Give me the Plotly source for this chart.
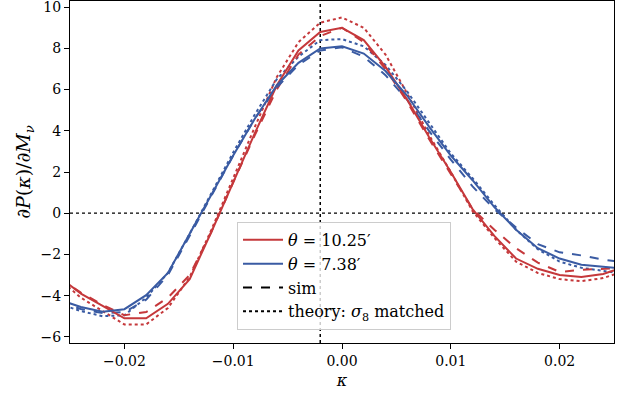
import plotly.graph_objects as go

kappa = [-0.026, -0.024, -0.022, -0.020, -0.018, -0.016, -0.014, -0.012, -0.010, -0.008,
         -0.006, -0.004, -0.002, 0.000, 0.002, 0.004, 0.006, 0.008, 0.010, 0.012,
         0.014, 0.016, 0.018, 0.020, 0.022, 0.024, 0.026]

red_solid = [-3.1, -3.9, -4.5, -5.1, -5.1, -4.4, -3.2, -0.9, 1.5, 3.9,
             6.2, 7.9, 8.8, 9.0, 8.4, 7.1, 5.5, 3.7, 2.0, 0.2,
             -1.1, -2.2, -2.7, -3.0, -3.1, -2.95, -2.6]
red_sim = [-3.15, -3.85, -4.45, -4.95, -4.8, -4.1, -3.0, -0.9, 1.5, 3.8,
           6.0, 7.7, 8.6, 9.0, 8.3, 7.0, 5.4, 3.6, 1.9, 0.2,
           -0.8, -1.7, -2.4, -2.85, -2.75, -2.7, -2.65]
red_theory = [-3.2, -4.1, -4.75, -5.4, -5.4, -4.6, -3.1, -0.8, 1.7, 4.2,
              6.6, 8.3, 9.25, 9.5, 9.0, 7.7, 5.8, 3.8, 2.0, 0.1,
              -1.2, -2.35, -2.9, -3.2, -3.3, -3.15, -2.8]

blue_solid = [-4.2, -4.55, -4.78, -4.66, -3.98, -2.9, -1.0, 0.9, 2.8, 4.6,
              6.2, 7.3, 8.0, 8.1, 7.75, 6.9, 5.7, 4.2, 2.8, 1.6,
              0.3, -0.8, -1.7, -2.2, -2.5, -2.6, -2.7]
blue_sim = [-4.3, -4.65, -4.85, -4.8, -4.2, -3.0, -1.1, 0.85, 2.8, 4.6,
            6.1, 7.2, 7.9, 8.05, 7.6, 6.7, 5.5, 4.0, 2.6, 1.3,
            0.2, -0.7, -1.5, -1.9, -2.05, -2.25, -2.4]
blue_theory = [-4.4, -4.75, -5.0, -4.95, -4.1, -2.9, -1.0, 0.95, 2.95, 4.8,
               6.5, 7.6, 8.4, 8.45, 8.1, 7.2, 5.9, 4.4, 2.9, 1.7,
               0.4, -0.8, -1.75, -2.35, -2.65, -2.8, -2.95]

x_ticks = [-0.02, -0.01, 0.0, 0.01, 0.02]
x_tick_labels = ["−0.02", "−0.01", "0.00", "0.01", "0.02"]
y_ticks = [-6, -4, -2, 0, 2, 4, 6, 8, 10]

vline_x = -0.002
hline_y = 0.0

RED = "#c5383b"
BLUE = "#3a5ba3"
FONT = "DejaVu Serif, serif"

fig = go.Figure()

# reference lines
fig.add_trace(go.Scatter(x=[vline_x, vline_x], y=[-6.3, 10.3], mode="lines",
                         line=dict(color="black", width=1.5, dash="dot"),
                         showlegend=False, hoverinfo="skip"))
fig.add_trace(go.Scatter(x=[-0.025, 0.025], y=[hline_y, hline_y], mode="lines",
                         line=dict(color="black", width=1.2, dash="dot"),
                         showlegend=False, hoverinfo="skip"))

series = [
    (red_theory, RED, "dot"),
    (blue_theory, BLUE, "dot"),
    (red_sim, RED, "dash"),
    (blue_sim, BLUE, "dash"),
    (red_solid, RED, "solid"),
    (blue_solid, BLUE, "solid"),
]
for ys, col, dash in series:
    fig.add_trace(go.Scatter(x=kappa, y=ys, mode="lines",
                             line=dict(color=col, width=2, dash=dash),
                             showlegend=False))

# legend entries
fig.add_trace(go.Scatter(x=[None], y=[None], mode="lines", name="<i>θ</i> = 10.25′",
                         line=dict(color=RED, width=2)))
fig.add_trace(go.Scatter(x=[None], y=[None], mode="lines", name="<i>θ</i> = 7.38′",
                         line=dict(color=BLUE, width=2)))
fig.add_trace(go.Scatter(x=[None], y=[None], mode="lines", name="sim",
                         line=dict(color="black", width=2, dash="dash")))
fig.add_trace(go.Scatter(x=[None], y=[None], mode="lines", name="theory: <i>σ</i><sub>8</sub> matched",
                         line=dict(color="black", width=2, dash="dot")))

fig.update_layout(
    width=628, height=395,
    margin=dict(l=70, r=14, t=1, b=52),
    paper_bgcolor="white", plot_bgcolor="white",
    font=dict(family=FONT, size=14, color="black"),
    showlegend=True,
    legend=dict(x=0.307, y=0.354, xanchor="left", yanchor="top",
                bgcolor="rgba(255,255,255,0.8)", bordercolor="#cccccc", borderwidth=1,
                font=dict(family=FONT, size=16), tracegroupgap=0,
                itemwidth=40),
)
fig.update_xaxes(range=[-0.025, 0.025], tickvals=x_ticks, ticktext=x_tick_labels,
                 showgrid=False, zeroline=False, showline=True, linecolor="black",
                 linewidth=1.2, mirror=True, ticks="outside", ticklen=5, tickcolor="black",
                 tickfont=dict(family=FONT, size=14), automargin=False,
                 ticklabeloverflow="allow",
                 title=dict(text="<i>κ</i>", font=dict(family=FONT, size=16), standoff=6))
fig.update_yaxes(range=[-6.3, 10.3], tickvals=y_ticks,
                 showgrid=False, zeroline=False, showline=True, linecolor="black",
                 linewidth=1.2, mirror=True, ticks="outside", ticklen=5, tickcolor="black",
                 tickfont=dict(family=FONT, size=14), automargin=False,
                 ticklabeloverflow="allow",
                 title=dict(text="∂<i>P</i>(<i>κ</i>)/∂<i>M</i><sub><i>ν</i></sub>",
                            font=dict(family=FONT, size=19), standoff=4))

fig.write_html("out.html", config={"displayModeBar": False},
               post_script="document.body.style.margin='0';document.body.style.overflow='hidden';")
